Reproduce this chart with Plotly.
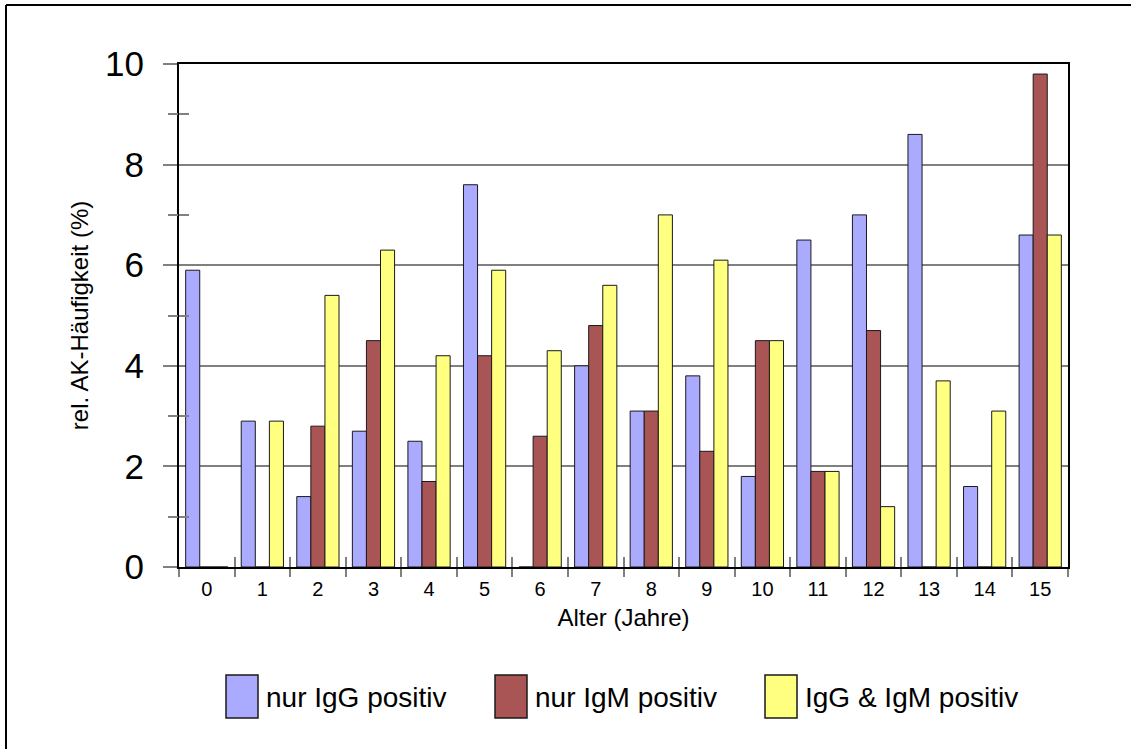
import plotly.graph_objects as go

# Age groups (years) and relative antibody frequency (%) per serology pattern
ages = [str(a) for a in range(16)]
igg_only = [5.9, 2.9, 1.4, 2.7, 2.5, 7.6, 0.0, 4.0, 3.1, 3.8, 1.8, 6.5, 7.0, 8.6, 1.6, 6.6]
igm_only = [0.0, 0.0, 2.8, 4.5, 1.7, 4.2, 2.6, 4.8, 3.1, 2.3, 4.5, 1.9, 4.7, 0.0, 0.0, 9.8]
igg_igm = [0.0, 2.9, 5.4, 6.3, 4.2, 5.9, 4.3, 5.6, 7.0, 6.1, 4.5, 1.9, 1.2, 3.7, 3.1, 6.6]

series_names = ["nur IgG positiv", "nur IgM positiv", "IgG & IgM positiv"]
series_values = [igg_only, igm_only, igg_igm]
series_colors = ["#AAAAFF", "#AA5555", "#FFFF80"]

y_ticks = [0, 2, 4, 6, 8, 10]
y_minor = [1, 3, 5, 7, 9]

FONT = "Liberation Sans, Arial, sans-serif"
W, H = 1131, 749
PLOT_LEFT, PLOT_RIGHT, PLOT_TOP, PLOT_BOTTOM = 179, 1068, 64, 567
L, R, T, B = PLOT_LEFT, W - PLOT_RIGHT, PLOT_TOP, H - PLOT_BOTTOM
PW, PH = PLOT_RIGHT - PLOT_LEFT, PLOT_BOTTOM - PLOT_TOP


def px_x(px):
    return (px - PLOT_LEFT) / PW


def px_y(py):
    return (PLOT_BOTTOM - py) / PH


fig = go.Figure()
for name, vals, col in zip(series_names, series_values, series_colors):
    fig.add_trace(go.Bar(
        x=ages, y=vals, name=name,
        marker=dict(color=col, line=dict(color="#1a1a1a", width=1)),
        showlegend=False,
    ))

# helper trace so the boundary-tick overlay axis is rendered
fig.add_trace(go.Scatter(x=[None], y=[None], xaxis="x2", yaxis="y2",
                         showlegend=False, hoverinfo="skip"))

fig.update_layout(
    width=W, height=H,
    margin=dict(l=L, r=R, t=T, b=B),
    paper_bgcolor="white", plot_bgcolor="white",
    barmode="group", bargap=0.24, bargroupgap=0,
    font=dict(family=FONT, color="black"),
    xaxis=dict(
        type="category", tickson="boundaries",
        ticks="outside", ticklen=8, tickwidth=2, tickcolor="#808080",
        ticklabelstandoff=3,
        showline=True, linecolor="black", linewidth=2, mirror=True,
        showgrid=False,
        tickfont=dict(size=20, family=FONT),
        title=dict(text="Alter (Jahre)", font=dict(size=24, family=FONT), standoff=10),
    ),
    yaxis=dict(
        range=[0, 10], tickvals=y_ticks,
        ticks="outside", ticklen=14, tickwidth=2, tickcolor="#808080",
        ticklabelstandoff=12,
        showline=True, linecolor="black", linewidth=2, mirror=True,
        showgrid=True, gridcolor="#808080", gridwidth=2,
        zeroline=False,
        tickfont=dict(size=35, family=FONT),
        minor=dict(tickvals=y_minor, ticks="inside", ticklen=10,
                   tickwidth=2, tickcolor="#808080", showgrid=False),
        title=dict(text="rel. AK-Häufigkeit (%)", font=dict(size=24, family=FONT), standoff=10),
    ),
    xaxis2=dict(
        overlaying="x", anchor="y2", range=[-0.5, 15.5],
        tickvals=[i - 0.5 for i in range(17)],
        ticks="inside", ticklen=10, tickwidth=2, tickcolor="#808080",
        showticklabels=False, showgrid=False, showline=False, zeroline=False,
    ),
    yaxis2=dict(
        overlaying="y", anchor="x2", range=[0, 10], side="left",
        tickvals=y_minor, ticks="outside", ticklen=10, tickwidth=2,
        tickcolor="#808080",
        showticklabels=False, showgrid=False, showline=False, zeroline=False,
    ),
)

shapes = [
    # outer frame of the figure (top and left edges)
    dict(type="line", xref="paper", yref="paper",
         x0=px_x(6), x1=px_x(W), y0=px_y(5), y1=px_y(5),
         line=dict(color="black", width=2), layer="below"),
    dict(type="line", xref="paper", yref="paper",
         x0=px_x(6), x1=px_x(6), y0=px_y(5), y1=px_y(H),
         line=dict(color="black", width=2), layer="below"),
]
annotations = []

# legend swatches and labels below the axis
legend_box_x = [226, 495, 765]
for name, col, bx in zip(series_names, series_colors, legend_box_x):
    shapes.append(dict(
        type="rect", xref="paper", yref="paper",
        x0=px_x(bx), x1=px_x(bx + 32), y0=px_y(718), y1=px_y(675),
        line=dict(color="#1a1a1a", width=1.5), fillcolor=col,
    ))
    annotations.append(dict(
        xref="paper", yref="paper", x=px_x(bx + 38), y=px_y(697),
        xanchor="left", yanchor="middle", showarrow=False,
        text=name, font=dict(size=28, family=FONT, color="black"),
    ))

fig.update_layout(shapes=shapes, annotations=annotations)

fig.write_html("out.html")
